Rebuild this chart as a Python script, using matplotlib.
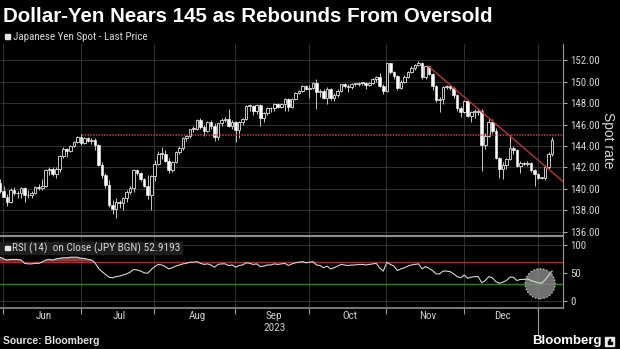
import numpy as np
import matplotlib.pyplot as plt
from matplotlib import font_manager
from matplotlib.patches import Rectangle

plt.rcParams['font.family'] = ['Liberation Sans', 'DejaVu Sans']

# pick a condensed face for the small labels when one is installed
_names = {f.name for f in font_manager.fontManager.ttflist}
NARROW = 'Liberation Sans'
for cand in ('Liberation Sans Narrow', 'Roboto Condensed', 'Open Sans Condensed',
             'Noto Sans Condensed', 'DejaVu Sans Condensed'):
    if cand in _names:
        NARROW = cand
        break
small = 1.0 if NARROW != 'Liberation Sans' else 0.84

# USDJPY daily bars, one per weekday from 2023-05-30 to 2024-01-04
# (index 0 = 2023-06-01)
first_open = 140.6
close = [
    139.8, 139.3,
    # Jun
    138.8, 139.95, 139.6, 139.6, 140.1, 139.4, 139.4, 139.6, 140.2, 140.1, 140.3,
    141.8, 141.9, 141.4, 141.9, 143.1, 143.7, 143.5, 144.0, 144.4, 144.8, 144.3,
    # Jul
    144.7, 144.5, 144.6, 144.1, 142.2, 141.3, 140.4, 138.5, 138.1, 138.8, 138.7,
    139.2, 139.7, 140.1, 141.8, 141.5, 140.9, 140.3, 139.4, 141.2, 142.3,
    # Aug
    143.3, 143.3, 142.6, 141.8, 142.5, 143.4, 143.8, 144.7, 144.9, 145.6, 145.6,
    146.4, 145.8, 145.4, 146.2, 145.9, 144.8, 146.1, 146.4, 146.5, 145.9, 146.2, 145.5,
    # Sep
    146.2, 146.5, 147.7, 147.7, 147.3, 147.8, 146.6, 147.1, 147.5, 147.5, 147.9,
    147.6, 147.9, 148.4, 147.6, 148.4, 148.9, 149.1, 149.6, 149.3, 149.4,
    # Oct
    149.9, 149.0, 149.1, 148.5, 149.3, 148.5, 148.7, 149.1, 149.8, 149.6, 149.5,
    149.8, 149.8, 149.9, 149.9, 149.7, 149.9, 150.2, 150.4, 149.6, 149.1, 151.7,
    # Nov
    150.9, 150.5, 149.4, 150.0, 150.4, 150.9, 151.3, 151.5, 151.7, 150.4, 151.4,
    150.7, 149.6, 148.3, 148.4, 149.5, 149.6, 149.4, 148.7, 147.5, 147.2, 148.2,
    # Dec
    146.8, 147.2, 147.2, 147.3, 144.1, 144.9, 146.2, 145.4, 142.9, 141.9, 142.2,
    142.8, 143.8, 143.6, 142.1, 142.4, 142.3, 142.4, 141.8, 141.4, 141.0,
    # Jan
    141.0, 142.0, 143.3, 144.6,
]
high = [
    140.9, 140.3,
    139.5, 140.1, 140.2, 139.8, 140.2, 140.2, 139.9, 139.8, 140.3, 140.5, 140.9,
    141.9, 142.0, 142.0, 142.0, 143.2, 143.9, 143.8, 144.1, 144.5, 144.9, 145.1,
    144.8, 144.8, 144.7, 144.7, 144.2, 142.5, 141.5, 140.8, 139.0, 139.2, 139.0,
    139.3, 139.9, 140.3, 141.9, 141.9, 141.6, 141.0, 141.3, 141.3, 142.7,
    143.5, 143.9, 143.6, 142.9, 142.6, 143.5, 144.0, 144.8, 145.0, 145.6, 145.9,
    146.5, 146.6, 146.0, 146.3, 146.4, 146.1, 146.1, 146.6, 146.7, 147.4, 146.4, 146.3,
    146.3, 146.6, 147.8, 147.9, 147.8, 147.9, 147.9, 147.2, 147.6, 147.6, 148.0,
    148.0, 148.0, 148.5, 148.5, 148.5, 149.0, 149.2, 149.7, 149.7, 149.7,
    150.0, 150.2, 149.3, 149.3, 149.5, 149.4, 148.9, 149.3, 149.8, 149.9, 149.8,
    149.9, 149.9, 150.0, 150.0, 150.0, 150.0, 150.3, 150.5, 150.8, 149.8, 151.7,
    151.7, 151.0, 150.6, 150.1, 150.6, 151.0, 151.4, 151.6, 151.9, 151.8, 151.4,
    151.4, 150.8, 149.7, 148.6, 149.6, 149.7, 149.7, 149.5, 148.8, 147.7, 148.3,
    148.3, 147.3, 147.4, 147.5, 147.4, 145.2, 146.6, 146.5, 145.7, 143.0, 142.5,
    142.9, 145.0, 144.0, 143.7, 142.6, 142.5, 142.6, 142.5, 141.9, 141.5,
    141.1, 142.2, 143.4, 144.8,
]
low = [
    139.6, 139.3,
    138.4, 138.7, 139.4, 139.2, 139.2, 138.8, 139.2, 139.2, 139.5, 139.9, 139.9,
    140.2, 141.3, 141.2, 141.0, 141.6, 142.9, 143.0, 143.4, 143.9, 144.3, 144.1,
    144.2, 144.4, 144.2, 143.6, 142.1, 141.0, 140.1, 138.3, 137.7, 137.3, 138.2,
    138.0, 138.8, 139.5, 139.7, 141.3, 140.7, 140.2, 139.1, 138.05, 140.7,
    142.2, 142.8, 142.5, 141.5, 141.6, 142.4, 143.3, 143.6, 144.5, 144.7, 145.3,
    145.5, 145.6, 144.9, 145.3, 145.6, 144.5, 144.6, 145.9, 146.2, 145.8, 145.6, 144.4,
    144.7, 146.0, 146.4, 147.3, 146.9, 147.0, 145.9, 146.2, 146.9, 147.2, 147.3,
    147.5, 147.5, 147.3, 147.3, 147.5, 148.3, 148.8, 149.0, 149.2, 148.5,
    149.3, 147.4, 148.6, 148.4, 147.9, 148.3, 148.2, 148.6, 149.0, 149.4, 149.0,
    149.3, 149.6, 149.6, 149.7, 149.3, 149.6, 149.8, 150.0, 149.5, 148.8, 149.0,
    150.7, 150.2, 149.2, 149.3, 149.9, 150.3, 150.8, 151.1, 151.4, 150.2, 150.2,
    150.6, 149.2, 148.1, 147.2, 147.9, 149.3, 149.2, 148.5, 147.3, 146.7, 147.1,
    146.7, 146.2, 146.6, 146.9, 141.7, 143.7, 144.8, 145.2, 142.8, 141.0, 140.95,
    141.9, 142.7, 143.3, 142.0, 141.5, 142.2, 142.1, 141.6, 140.25, 140.9,
    140.9, 140.8, 141.9, 143.1,
]
rsi = [
    78, 75,
    73, 74, 74, 74, 73, 67, 66, 66, 67, 67, 69, 73, 74, 73, 75, 76, 77, 77, 78, 78, 78, 76,
    76, 74, 73, 68, 58, 52, 47, 42, 41, 43, 44, 46, 48, 51, 56, 55, 53, 50, 49, 56, 61,
    65, 64, 61, 57, 59, 62, 64, 66, 67, 69, 69, 70, 67, 65, 66, 64, 60, 65, 66, 66, 63, 64, 60,
    63, 64, 68, 67, 65, 66, 61, 62, 64, 64, 66, 65, 66, 67, 63, 66, 68, 69, 70, 68, 69,
    70, 64, 63, 59, 62, 57, 59, 62, 65, 64, 63, 64, 64, 65, 65, 64, 65, 66, 67, 58, 53, 69,
    65, 62, 54, 57, 59, 62, 64, 65, 66, 57, 61, 58, 54, 48, 48, 53, 53, 52, 48, 43, 41, 46,
    40, 42, 43, 43, 32, 36, 43, 41, 34, 31, 33, 36, 42, 42, 36, 38, 38, 39, 36, 34, 32,
    31, 37, 45, 53,
]

months = ['Jun', 'Jul', 'Aug', 'Sep', 'Oct', 'Nov', 'Dec']
month_start = [0, 22, 43, 66, 87, 109, 131, 152, 156]
price_ticks = [136, 138, 140, 142, 144, 146, 148, 150, 152]
rsi_ticks = [0, 50, 100]
resistance = 145.0
trend = ([119.7, 158.1], [151.45, 140.7])
circle_at = (151.6, 30.3)

close = np.array(close)
high = np.array(high)
low = np.array(low)
rsi = np.array(rsi, dtype=float)
x = np.arange(len(close)) - 2
opens = np.r_[first_open, close[:-1]]
bounds = np.array(month_start[:-1]) - 1.1
xlim = (-2.0, 158.1)

W, H = 620, 349
def fy(py):
    return 1 - py / H

fig = plt.figure(figsize=(W / 100, H / 100), dpi=100, facecolor='black')
ax = fig.add_axes([0, fy(236.5), 563 / W, fy(44) - fy(236.5)], facecolor='black')
ax2 = fig.add_axes([0, fy(308), 563 / W, fy(236.5) - fy(308)], facecolor='black')

grid_c = '#3a3a3a'
for a in (ax, ax2):
    a.set_xlim(*xlim)
    a.vlines(bounds, -1000, 1000, color=grid_c, lw=0.6, zorder=0)
    for s in ('left', 'top', 'bottom'):
        a.spines[s].set_visible(False)
    a.spines['right'].set_color('#9a9a9a')
    a.spines['right'].set_linewidth(0.8)
    a.yaxis.tick_right()

# price panel
ax.set_ylim(135.58, 153.49)
ax.hlines(price_ticks, *xlim, color=grid_c, lw=0.6, zorder=0)
up = close >= opens
body_lo = np.minimum(opens, close)
body_h = np.maximum(np.abs(close - opens), 0.07)
ax.vlines(x, low, high, color='#c8c8c8', lw=0.7, zorder=2)
ax.bar(x[up], body_h[up], bottom=body_lo[up], width=0.75, color='black',
       edgecolor='#e2e2e2', lw=0.6, zorder=3)
ax.bar(x[~up], body_h[~up], bottom=body_lo[~up], width=0.75, color='white',
       edgecolor='white', lw=0.4, zorder=3)
ax.plot([bounds[1] + 0.5, xlim[1]], [resistance, resistance], color='#c43a3a',
        ls=(0, (1, 0.8)), lw=1.1, zorder=4)
ax.plot(*trend, color='#b83434', lw=1.0, zorder=4)

ax.set_xticks([])
ax.set_yticks(price_ticks)
ax.set_yticklabels([f'{v:.2f}' for v in price_ticks])
ax.tick_params(axis='y', colors='#a8a8a8', labelcolor='#d4d4d4', length=3,
               width=0.8, pad=2, labelsize=7.8 * small)
for t in ax.get_yticklabels():
    t.set_family(NARROW)

# RSI panel
ax2.set_ylim(-13.5, 115.3)
ax2.hlines([0, 100], *xlim, color=grid_c, lw=0.6, zorder=0)
ax2.axhline(70, color='#a82a2a', lw=1.0, zorder=1)
ax2.axhline(30, color='#2f7d2f', lw=1.0, zorder=1)
ax2.fill_between(x, rsi, 70, where=rsi >= 70, interpolate=True, color='#8c3a3a', lw=0, zorder=2)
ax2.fill_between(x, rsi, 30, where=rsi <= 30, interpolate=True, color='#2f6a2f', lw=0, zorder=2)
ax2.scatter([circle_at[0]], [circle_at[1]], s=470, facecolor='#858585', alpha=0.85,
            edgecolor='#e6e6e6', linestyle=':', lw=0.9, zorder=4)
ax2.plot(x, rsi, color='#d6d6d6', lw=0.8, zorder=5)
ax2.spines['top'].set_visible(True)
ax2.spines['top'].set_color('#8c8c8c')
ax2.spines['top'].set_linewidth(1.6)
ax2.spines['bottom'].set_visible(True)
ax2.spines['bottom'].set_color('#8c8c8c')
ax2.spines['bottom'].set_linewidth(1.2)
ax2.set_yticks(rsi_ticks)
ax2.set_yticklabels([str(v) for v in rsi_ticks])
ax2.tick_params(axis='y', colors='#a8a8a8', labelcolor='#d4d4d4', length=3,
                width=0.8, pad=2, labelsize=7.8 * small)
for t in ax2.get_yticklabels():
    t.set_family(NARROW)
ax2.set_xticks(bounds)
ax2.set_xticklabels([])
ax2.tick_params(axis='x', colors='#9a9a9a', length=4, width=0.8, direction='out')

xt = ax2.get_xaxis_transform()
for i, m in enumerate(months):
    c = (month_start[i] + month_start[i + 1] - 1) / 2
    ax2.text(c, -0.105, m, transform=xt, ha='center', va='center', fontsize=8,
             color='#cfcfcf', family=NARROW)
ax2.text((month_start[3] + month_start[4] - 1) / 2, -0.285, '2023', transform=xt,
         ha='center', va='center', fontsize=8, color='#cfcfcf', family=NARROW)
ax2.plot([bounds[7], bounds[7]], [0, -0.36], transform=xt, color='#9a9a9a',
         lw=0.8, clip_on=False)

# texts
fig.text(3 / W, fy(16.5), 'Dollar-Yen Nears 145 as Rebounds From Oversold',
         fontsize=14.8, weight='bold', color='white', va='center')
fig.add_artist(Rectangle((5 / W, fy(38.5)), 4.5 / W, 4.5 / H,
                         transform=fig.transFigure, color='#e6e6e6'))
fig.text(13 / W, fy(36.5), 'Japanese Yen Spot - Last Price', fontsize=7.9 * small,
         color='#d6d6d6', va='center', family=NARROW)
fig.add_artist(Rectangle((0, fy(254)), 182 / W, 12 / H, transform=fig.transFigure,
                         color='#1e1e1e', zorder=3))
fig.add_artist(Rectangle((5 / W, fy(250)), 4.5 / W, 4.5 / H,
                         transform=fig.transFigure, color='#e6e6e6', zorder=4))
fig.text(12 / W, fy(248), 'RSI (14)  on Close (JPY BGN) 52.9193', fontsize=8.1 * small,
         color='#d6d6d6', va='center', family=NARROW, zorder=5)
fig.text(608 / W, fy(140), 'Spot rate', rotation=270, fontsize=10,
         color='#d4d4d4', ha='center', va='center')
fig.text(3 / W, fy(341), 'Source: Bloomberg', fontsize=7.5, weight='bold',
         color='#e0e0e0', va='center')
fig.text(602 / W, fy(341), 'Bloomberg', fontsize=9.5, weight='bold', color='white',
         ha='right', va='center')
fig.add_artist(Rectangle((605 / W, fy(345.5)), 8.5 / W, 8.5 / H,
                         transform=fig.transFigure, color='#e6e6e6'))
for bx, bh in ((607.5, 3.5), (609.2, 5.5), (610.9, 2.5)):
    fig.add_artist(Rectangle((bx / W, fy(344)), 1.0 / W, bh / H,
                             transform=fig.transFigure, color='black'))

fig.savefig('out.png', dpi=100, facecolor='black')
